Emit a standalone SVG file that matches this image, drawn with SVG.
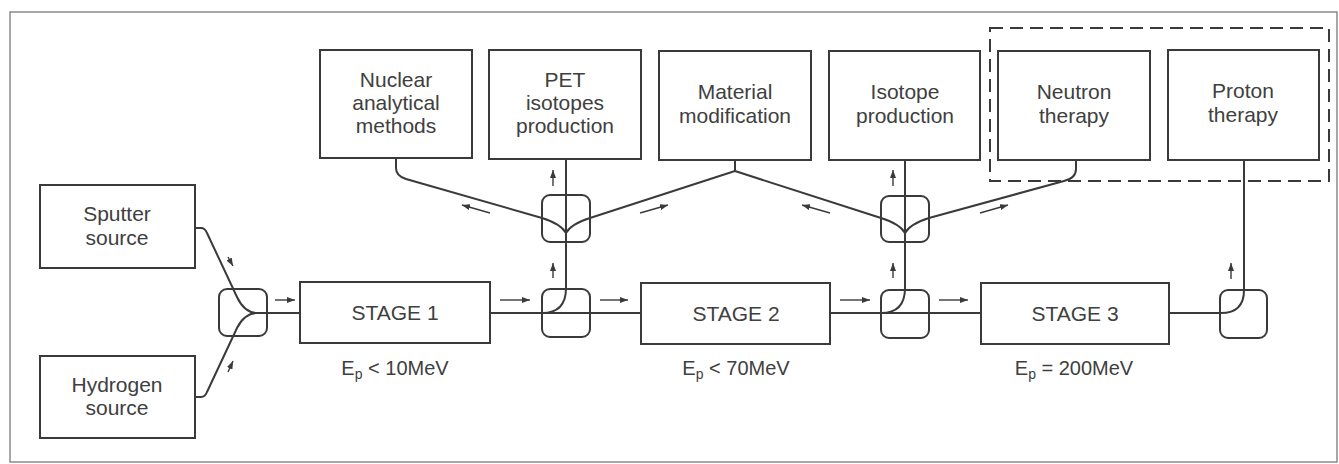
<svg xmlns="http://www.w3.org/2000/svg" width="1339" height="464" viewBox="0 0 1339 464">
<defs>
<style>
.frame{fill:none;stroke:#8a8a8a;stroke-width:1.5}
.box{fill:#fff;stroke:#3a3a3a;stroke-width:2}
.sw{fill:none;stroke:#3a3a3a;stroke-width:2}
.ln{fill:none;stroke:#3a3a3a;stroke-width:2}
.ar{fill:none;stroke:#3a3a3a;stroke-width:1.4}
.dash{fill:none;stroke:#3a3a3a;stroke-width:2;stroke-dasharray:13 7}
text{font-family:"Liberation Sans",Arial,sans-serif;font-size:21px;fill:#404040;text-anchor:middle}
.lb{font-size:20px}
</style>
<marker id="ah" viewBox="0 0 8 6" refX="8" refY="3" markerWidth="8" markerHeight="6" markerUnits="userSpaceOnUse" orient="auto">
<path d="M0,0 L8,3 L0,6 z" fill="#3a3a3a"/>
</marker>
</defs>
<rect width="1339" height="464" fill="#fff"/>
<rect class="frame" x="10" y="12" width="1327" height="450"/>
<rect class="dash" x="990" y="28" width="339" height="153"/>

<g id="connectors">
<path class="ln" d="M195,228 H201 Q205,228 207,233 L237,297 Q244,312 256,313 H300"/>
<path class="ln" d="M195,397 H201 Q205,397 207,392 L237,328 Q244,314 256,313"/>
<path class="ln" d="M490,313 H641"/>
<path class="ln" d="M830,313 H981"/>
<path class="ln" d="M1169,313 H1221 Q1244,313 1244,290 V160"/>
<path class="ln" d="M566,159 V288 Q566,313 542,313"/>
<path class="ln" d="M905,160 V288 Q905,313 881,313"/>
<path class="ln" d="M396,158 V168 Q396,176 406,179 L542,218 Q561,224 566,233"/>
<path class="ln" d="M735,160 V171 L590,218 Q571,224 566,233"/>
<path class="ln" d="M735,171 L881,218 Q900,224 905,233"/>
<path class="ln" d="M1076,160 V169 Q1076,178 1064,181 L929,218 Q910,224 905,233"/>
<path class="ar" marker-end="url(#ah)" d="M228,257 L233,266"/>
<path class="ar" marker-end="url(#ah)" d="M228,372 L233,361"/>
<path class="ar" marker-end="url(#ah)" d="M275,300 H295"/>
<path class="ar" marker-end="url(#ah)" d="M500,300 H530"/>
<path class="ar" marker-end="url(#ah)" d="M600,300 H628"/>
<path class="ar" marker-end="url(#ah)" d="M840,300 H870"/>
<path class="ar" marker-end="url(#ah)" d="M939,300 H968"/>
<path class="ar" marker-end="url(#ah)" d="M553,186 V170"/>
<path class="ar" marker-end="url(#ah)" d="M553,278 V263"/>
<path class="ar" marker-end="url(#ah)" d="M893,186 V170"/>
<path class="ar" marker-end="url(#ah)" d="M893,278 V263"/>
<path class="ar" marker-end="url(#ah)" d="M1231,279 V263"/>
<path class="ar" marker-end="url(#ah)" d="M490,213 L462,205"/>
<path class="ar" marker-end="url(#ah)" d="M640,213 L668,205"/>
<path class="ar" marker-end="url(#ah)" d="M830,213 L802,205"/>
<path class="ar" marker-end="url(#ah)" d="M980,213 L1008,205"/>
</g>

<g id="switch-merge"><rect class="sw" x="219" y="289" width="48" height="47" rx="8"/></g>
<g id="switch-1-lower"><rect class="sw" x="542" y="289" width="48" height="48" rx="8"/></g>
<g id="switch-1-upper"><rect class="sw" x="542" y="195" width="48" height="47" rx="8"/></g>
<g id="switch-2-upper"><rect class="sw" x="881" y="196" width="48" height="46" rx="8"/></g>
<g id="switch-2-lower"><rect class="sw" x="881" y="290" width="48" height="48" rx="8"/></g>
<g id="switch-3"><rect class="sw" x="1220" y="290" width="47" height="48" rx="8"/></g>

<g id="sputter"><rect class="box" x="40" y="185" width="155" height="83"/><text x="117" y="221">Sputter</text><text x="117" y="245">source</text></g>
<g id="hydrogen"><rect class="box" x="40" y="356" width="155" height="82"/><text x="117" y="392">Hydrogen</text><text x="117" y="415">source</text></g>

<g id="stage1"><rect class="box" x="300" y="282" width="190" height="61"/><text x="395" y="320">STAGE 1</text></g>
<g id="stage2"><rect class="box" x="641" y="283" width="189" height="61"/><text x="736" y="321">STAGE 2</text></g>
<g id="stage3"><rect class="box" x="981" y="283" width="188" height="61"/><text x="1075" y="321">STAGE 3</text></g>

<g id="label-stage1"><text class="lb" x="395" y="375">E<tspan font-size="14" dy="4">p</tspan><tspan dy="-4"> &lt; 10MeV</tspan></text></g>
<g id="label-stage2"><text class="lb" x="736" y="375">E<tspan font-size="14" dy="4">p</tspan><tspan dy="-4"> &lt; 70MeV</tspan></text></g>
<g id="label-stage3"><text class="lb" x="1074" y="375">E<tspan font-size="14" dy="4">p</tspan><tspan dy="-4"> = 200MeV</tspan></text></g>

<g id="nuclear"><rect class="box" x="320" y="50" width="152" height="108"/><text x="396" y="87">Nuclear</text><text x="396" y="110">analytical</text><text x="396" y="133">methods</text></g>
<g id="pet"><rect class="box" x="489" y="50" width="152" height="109"/><text x="565" y="87">PET</text><text x="565" y="110">isotopes</text><text x="565" y="133">production</text></g>
<g id="material"><rect class="box" x="659" y="51" width="152" height="109"/><text x="735" y="99">Material</text><text x="735" y="123">modification</text></g>
<g id="isotope"><rect class="box" x="829" y="51" width="151" height="109"/><text x="905" y="99">Isotope</text><text x="905" y="123">production</text></g>
<g id="neutron"><rect class="box" x="998" y="51" width="152" height="109"/><text x="1074" y="99">Neutron</text><text x="1074" y="123">therapy</text></g>
<g id="proton"><rect class="box" x="1168" y="50" width="151" height="110"/><text x="1243" y="98">Proton</text><text x="1243" y="122">therapy</text></g>
</svg>
